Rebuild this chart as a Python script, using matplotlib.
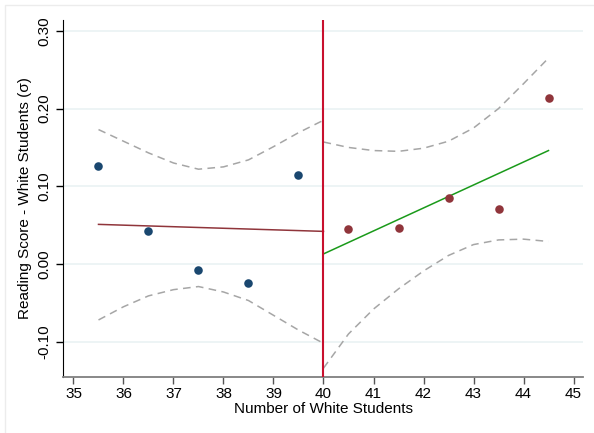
import matplotlib
matplotlib.use("Agg")
import matplotlib.pyplot as plt
from matplotlib.patches import Rectangle

plt.rcParams['font.family'] = ['Liberation Sans', 'DejaVu Sans']

# Binned scatter points
left_x = [35.5, 36.5, 37.5, 38.5, 39.5]
left_y = [0.126, 0.042, -0.008, -0.024, 0.115]
right_x = [40.5, 41.5, 42.5, 43.5, 44.5]
right_y = [0.045, 0.046, 0.085, 0.071, 0.213]

# Fitted lines (endpoints)
left_fit_x = [35.5, 40.0]
left_fit_y = [0.051, 0.042]
right_fit_x = [40.0, 44.5]
right_fit_y = [0.013, 0.146]

# Confidence bands
ci_left_x = [35.5, 36.0, 36.5, 37.0, 37.5, 38.0, 38.5, 39.0, 39.5, 40.0]
ci_left_hi = [0.173, 0.158, 0.143, 0.130, 0.122, 0.125, 0.134, 0.151, 0.169, 0.185]
ci_left_lo = [-0.072, -0.055, -0.041, -0.033, -0.029, -0.036, -0.047, -0.066, -0.085, -0.102]
ci_right_x = [40.0, 40.5, 41.0, 41.5, 42.0, 42.5, 43.0, 43.5, 44.0, 44.5]
ci_right_hi = [0.157, 0.150, 0.146, 0.145, 0.149, 0.158, 0.175, 0.200, 0.232, 0.265]
ci_right_lo = [-0.134, -0.090, -0.058, -0.032, -0.009, 0.011, 0.025, 0.031, 0.032, 0.029]

cutoff = 40
x_ticks = list(range(35, 46))
y_ticks = [-0.10, 0.00, 0.10, 0.20, 0.30]
y_tick_labels = ["-0.10", "0.00", "0.10", "0.20", "0.30"]

fig = plt.figure(figsize=(5.94, 4.33), dpi=100)
# faint outer frame
fig.patches.append(Rectangle((5/594, -0.05), 1.2, (433-5)/433 + 0.05, transform=fig.transFigure,
                             fill=False, edgecolor='#ececec', linewidth=1.0))
ax = fig.add_axes([63/594, (433-377)/433, (583-63)/594, (377-20)/433])

ax.set_xlim(34.79, 45.19)
ax.set_ylim(-0.1454, 0.314)

for yv in y_ticks:
    ax.axhline(yv, color='#eaf2f3', linewidth=1.2, zorder=0)

ax.plot(ci_left_x, ci_left_hi, color='#a6a6a6', linestyle=(0, (5, 3.5)), linewidth=1.1)
ax.plot(ci_left_x, ci_left_lo, color='#a6a6a6', linestyle=(0, (5, 3.5)), linewidth=1.1)
ax.plot(ci_right_x, ci_right_hi, color='#a6a6a6', linestyle=(0, (5, 3.5)), linewidth=1.1)
ax.plot(ci_right_x, ci_right_lo, color='#a6a6a6', linestyle=(0, (5, 3.5)), linewidth=1.1)

ax.plot(left_fit_x, left_fit_y, color='#90353b', linewidth=1.1)
ax.plot(right_fit_x, right_fit_y, color='#1a9a1a', linewidth=1.1)

ax.scatter(left_x, left_y, s=38, color='#1a476f', zorder=5, linewidths=0)
ax.scatter(right_x, right_y, s=38, color='#90353b', zorder=5, linewidths=0)

ax.axvline(cutoff, color='#c8102e', linewidth=1.5, zorder=4)

ax.set_xticks(x_ticks)
ax.set_yticks(y_ticks)
ax.set_yticklabels(y_tick_labels, rotation=90, va='center')
ax.tick_params(axis='both', labelsize=11, length=5, width=1, direction='out', colors='#000000')
ax.tick_params(axis='x', pad=2, color='#555555')

for s in ['top', 'right']:
    ax.spines[s].set_visible(False)
ax.spines['left'].set_color('#000000')
ax.spines['bottom'].set_color('#7f7f7f')
ax.spines['bottom'].set_linewidth(1.3)

ax.set_xlabel('Number of White Students', fontsize=11, labelpad=1)
ax.set_ylabel('Reading Score - White Students (σ)', fontsize=11, labelpad=4)

fig.savefig('out.png', dpi=100)
